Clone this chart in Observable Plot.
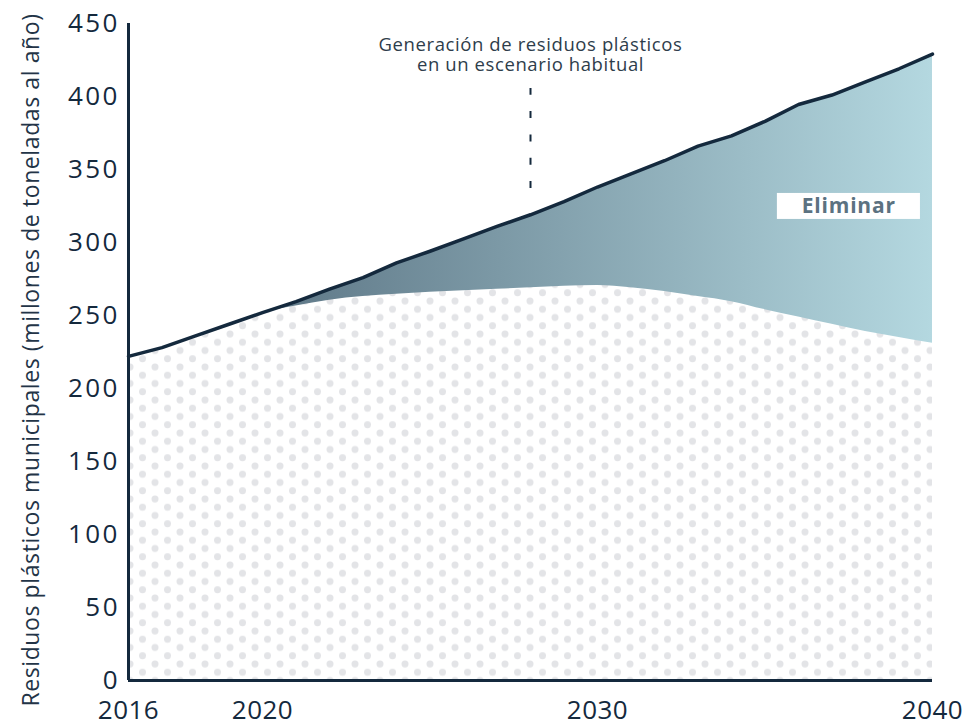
<!DOCTYPE html>
<html>
<head>
<meta charset="utf-8">
<script src="https://cdn.jsdelivr.net/npm/d3@7"></script>
<script src="https://cdn.jsdelivr.net/npm/@observablehq/plot@0.6"></script>
<style>
  body { margin: 0; background: #fff; }
  svg { display: block; }
  g[aria-label="y-axis tick label"] text { letter-spacing: 2.5px; }
  g[aria-label="x-axis tick label"] text { letter-spacing: 0.5px; }
  .y-title text { letter-spacing: 0.6px; }
  .bau-note text { letter-spacing: 0.6px; }
  .wedge-label text { letter-spacing: 0.8px; }
</style>
</head>
<body>
<div id="chart"></div>
<script>
// Municipal plastic waste, million tonnes per year
const years = [2016, 2017, 2018, 2019, 2020, 2021, 2022, 2023, 2024, 2025, 2026, 2027, 2028,
               2029, 2030, 2031, 2032, 2033, 2034, 2035, 2036, 2037, 2038, 2039, 2040];
// Business-as-usual generation (top line)
const businessAsUsual = [222, 228, 236, 244, 252, 259.5, 268, 276, 286, 294, 302.5, 311, 319,
                         328, 338, 347, 356, 366, 373, 383, 394.5, 401, 410, 419, 429];
// Remaining waste once the "Eliminar" wedge is removed
const reducedScenario = [222, 228, 236, 244, 252, 256.5, 260.5, 263, 264.5, 266, 267, 268, 269,
                         270, 270.5, 269, 266.5, 263, 259.5, 254, 249, 244, 239, 235, 231];

const yTicks = [0, 50, 100, 150, 200, 250, 300, 350, 400, 450];
const xTicks = [2016, 2020, 2030, 2040];

const yTitle = "Residuos plásticos municipales (millones de toneladas al año)";
const bauNote = "Generación de residuos plásticos\nen un escenario habitual";
const wedgeLabel = "Eliminar";

const rows = years.map((year, i) => ({
  year,
  bau: businessAsUsual[i],
  reduced: reducedScenario[i]
}));

const ink = "#14293d";

// Gradient for the wedge and the dotted texture under the remaining waste
function defs() {
  const ns = "http://www.w3.org/2000/svg";
  const d = document.createElementNS(ns, "defs");
  d.innerHTML = `
    <linearGradient id="eliminate" x1="0" x2="1" y1="0" y2="0">
      <stop offset="0%" stop-color="#4c6374"/>
      <stop offset="100%" stop-color="#b4d8e0"/>
    </linearGradient>
    <pattern id="dots" patternUnits="userSpaceOnUse" width="25" height="16.5">
      <rect width="25" height="16.5" fill="#ffffff"/>
      <circle cx="5" cy="4" r="3.5" fill="#e3e4e7"/>
      <circle cx="17.5" cy="12.25" r="3.5" fill="#e3e4e7"/>
      <circle cx="-7.5" cy="12.25" r="3.5" fill="#e3e4e7"/>
    </pattern>`;
  return d;
}

const chart = Plot.plot({
  width: 971,
  height: 723,
  marginLeft: 128,
  marginRight: 39,
  marginTop: 23,
  marginBottom: 43,
  style: { fontFamily: "'Open Sans', sans-serif", color: ink, background: "#fff" },
  x: { domain: [2016, 2040] },
  y: { domain: [0, 450] },
  marks: [
    defs,
    Plot.areaY(rows, { x: "year", y1: 0, y2: "bau", fill: "url(#eliminate)" }),
    Plot.areaY(rows, { x: "year", y1: 0, y2: "reduced", fill: "url(#dots)", curve: "monotone-x" }),
    Plot.lineY(rows, { x: "year", y: "bau", stroke: ink, strokeWidth: 3.5, strokeLinejoin: "round" }),
    Plot.ruleY([0], { stroke: ink, strokeWidth: 3 }),
    Plot.ruleX([2016], { y1: 0, y2: 450, stroke: ink, strokeWidth: 3 }),
    Plot.axisY(yTicks, { tickSize: 0, tickPadding: 8.5, fontSize: 26, label: null }),
    Plot.axisX(xTicks, { tickSize: 0, tickPadding: 20, fontSize: 26, label: null, tickFormat: d => `${d}` }),
    Plot.text([yTitle], {
      frameAnchor: "left", rotate: -90, textAnchor: "middle",
      dx: -97, dy: 8, fontSize: 23, fill: "#233447", className: "y-title"
    }),
    // note on the business-as-usual line
    Plot.text([bauNote], {
      x: 2028, y: 429, fontSize: 18.5, lineHeight: 1.1, fill: "#2e3d4b", className: "bau-note"
    }),
    Plot.ruleX([2028], { y1: 337, y2: 405.5, stroke: ink, strokeWidth: 2, strokeDasharray: "7 16.3" }),
    // wedge label
    Plot.rect([wedgeLabel], { x1: 2035.37, x2: 2039.64, y1: 315.8, y2: 333.6, fill: "#fff" }),
    Plot.text([wedgeLabel], {
      x: 2037.5, y: 324.7, fontSize: 21, fontWeight: "bold", fill: "#5c7281", className: "wedge-label"
    })
  ]
});

document.getElementById("chart").appendChild(chart);
</script>
</body>
</html>
